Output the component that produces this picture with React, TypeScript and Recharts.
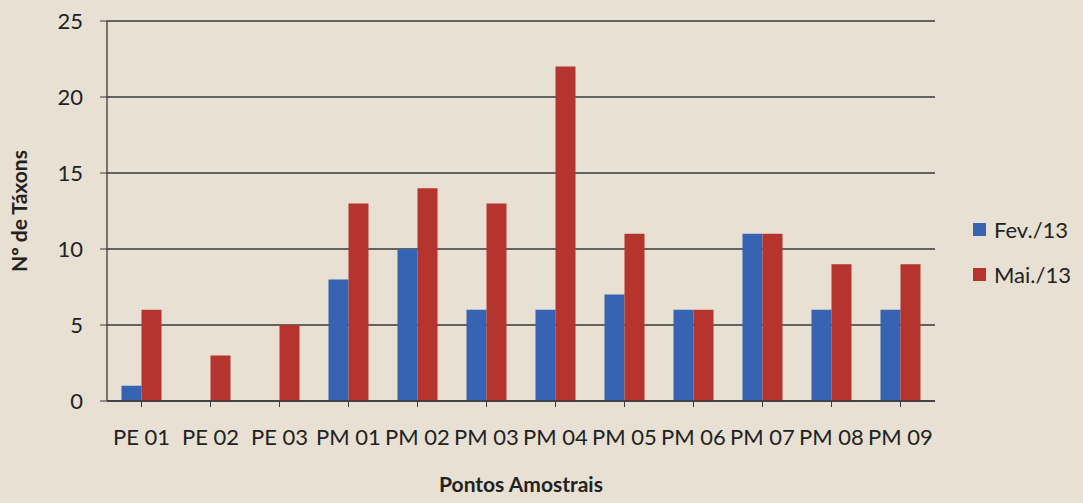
import React from "react";
import { BarChart, Bar, XAxis, YAxis, CartesianGrid, Legend } from "recharts";

const categories = ["PE 01", "PE 02", "PE 03", "PM 01", "PM 02", "PM 03", "PM 04", "PM 05", "PM 06", "PM 07", "PM 08", "PM 09"];
const fevValues = [1, 0, 0, 8, 10, 6, 6, 7, 6, 11, 6, 6];
const maiValues = [6, 3, 5, 13, 14, 13, 22, 11, 6, 11, 9, 9];
const yTicks = [0, 5, 10, 15, 20, 25];
const seriesNames = ["Fev./13", "Mai./13"];
const seriesColors = ["#3763b3", "#b5352e"];

const data = categories.map((c, i) => ({ name: c, fev: fevValues[i], mai: maiValues[i] }));

const FONT = "Lato, 'Open Sans', sans-serif";

const LegendContent = () => (
  <div style={{ fontFamily: FONT, fontSize: 22, color: "#222" }}>
    {seriesNames.map((n, i) => (
      <div key={n} style={{ display: "flex", alignItems: "center", height: 45 }}>
        <span style={{ display: "inline-block", width: 13, height: 13, background: seriesColors[i], marginRight: 8 }} />
        <span>{n}</span>
      </div>
    ))}
  </div>
);

export default function App() {
  return (
    <div style={{ position: "fixed", left: 0, top: 0, width: 1083, height: 503, background: "#e8e0d2", overflow: "hidden" }}>
      <BarChart
        width={1083}
        height={503}
        data={data}
        margin={{ top: 21, right: 38, bottom: 0, left: 7 }}
        barCategoryGap="21%"
        barGap={0}
      >
        <CartesianGrid vertical={false} stroke="#3a3a3a" strokeWidth={1.3} />
        <XAxis
          dataKey="name"
          tick={{ fill: "#222", fontSize: 22, fontFamily: FONT }}
          tickLine={{ stroke: "#3a3a3a" }}
          axisLine={{ stroke: "#3a3a3a", strokeWidth: 1.3 }}
          tickSize={6}
          tickMargin={22}
          interval={0}
          height={102}
          label={{ value: "Pontos Amostrais", position: "insideBottom", offset: 11, style: { fontFamily: FONT, fontWeight: 700, fontSize: 21, fill: "#222" } }}
        />
        <YAxis
          domain={[0, 25]}
          ticks={yTicks}
          tick={{ fill: "#222", fontSize: 22, fontFamily: FONT }}
          tickLine={{ stroke: "#3a3a3a" }}
          axisLine={{ stroke: "#3a3a3a", strokeWidth: 1.3 }}
          tickSize={7}
          tickMargin={17}
          width={100}
          label={{ value: "Nº de Táxons", angle: -90, position: "insideLeft", offset: 13, style: { textAnchor: "middle", fontFamily: FONT, fontWeight: 700, fontSize: 21, fill: "#222" } }}
        />
        <Legend layout="vertical" align="right" verticalAlign="middle" content={<LegendContent />} wrapperStyle={{ right: 0, width: 110 }} />
        <Bar dataKey="fev" name={seriesNames[0]} fill={seriesColors[0]} isAnimationActive={false} />
        <Bar dataKey="mai" name={seriesNames[1]} fill={seriesColors[1]} isAnimationActive={false} />
      </BarChart>
    </div>
  );
}
